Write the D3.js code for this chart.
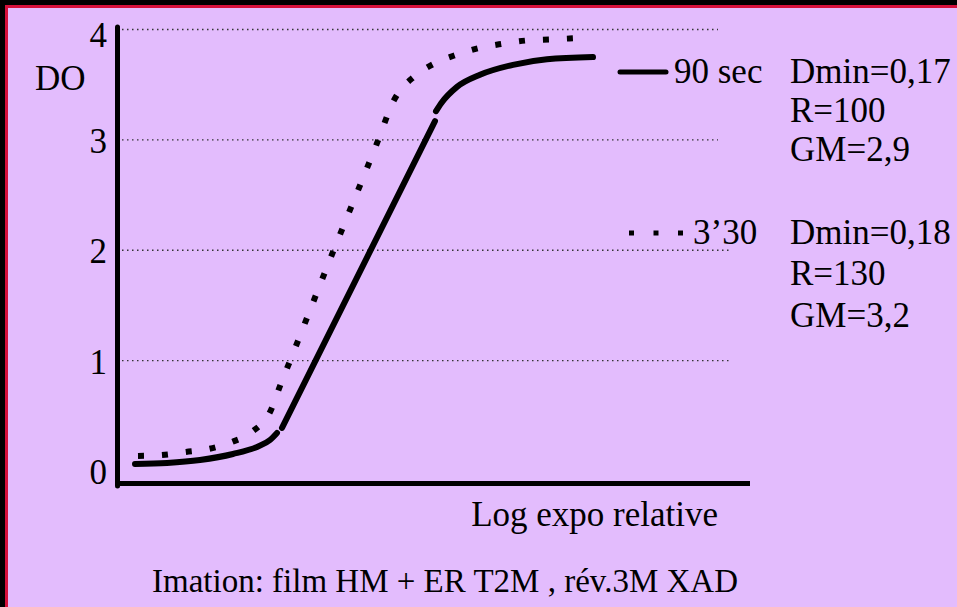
<!DOCTYPE html>
<html><head><meta charset="utf-8">
<script src="https://cdn.jsdelivr.net/npm/d3@7"></script>
<style>
html,body{margin:0;padding:0;background:#e3bcfd;}
svg{display:block;}
</style></head>
<body>
<script>
// ---- data ----
const yTicks = [0, 1, 2, 3, 4];
const yTickLabels = ["0", "1", "2", "3", "4"];
const yLabel = "DO";
const xLabel = "Log expo relative";
const caption = "Imation: film HM + ER T2M , rév.3M XAD";

// 90 sec curve: toe, straight part, shoulder
const toe90x = [0.09,0.25,0.415,0.58,0.70,0.765,0.80];
const toe90y = [0.063,0.073,0.10,0.154,0.218,0.281,0.345];
const straight90x = [0.825,1.59];
const straight90y = [0.39,3.17];
const shoulder90x = [1.595,1.62,1.70,1.815,1.98,2.15,2.38];
const shoulder90y = [3.26,3.33,3.48,3.59,3.68,3.73,3.75];

// 3'30 curve
const series330x = [0.105,0.225,0.345,0.46,0.575,0.675,0.77,0.815,0.87,1.08,1.30,1.385,1.49,1.585,1.695,1.805,1.925,2.045,2.165,2.28];
const series330y = [0.136,0.145,0.172,0.20,0.263,0.354,0.553,0.77,1.02,1.985,2.97,3.36,3.58,3.69,3.77,3.83,3.87,3.90,3.91,3.92];

const seriesNames = ["90 sec", "3\u201930"];
const seriesInfo = [["Dmin=0,17", "R=100", "GM=2,9"], ["Dmin=0,18", "R=130", "GM=3,2"]];

// ---- drawing ----
const FONT = "Liberation Serif";
const W = 957, H = 607;
const svg = d3.select("body").append("svg").attr("width", W).attr("height", H)
  .attr("font-family", FONT);
svg.append("rect").attr("width", W).attr("height", H).attr("fill", "#e3bcfd");
// frame: black outer, red inner (top and left)
svg.append("rect").attr("x",0).attr("y",0).attr("width",W).attr("height",5).attr("fill","#000");
svg.append("rect").attr("x",0).attr("y",0).attr("width",5).attr("height",H).attr("fill","#000");
svg.append("rect").attr("x",5).attr("y",5).attr("width",W-5).attr("height",3).attr("fill","#d5103c");
svg.append("rect").attr("x",5).attr("y",5).attr("width",3).attr("height",H-5).attr("fill","#d5103c");

const x = d3.scaleLinear().domain([0, 3]).range([117, 717]);
const y = d3.scaleLinear().domain([0, 4]).range([471, 29.5]);

const FS = 35;

// gridlines
svg.append("g").selectAll("line").data(yTicks.filter(d => d > 0)).join("line")
  .attr("x1", 122).attr("x2", d => d >= 3 ? 718 : 729)
  .attr("y1", d => y(d)).attr("y2", d => y(d))
  .attr("stroke", "#333").attr("stroke-width", 1.3).attr("stroke-dasharray", "1.5 3.5");

// y axis labels via d3 axis
const ax = svg.append("g").attr("transform", "translate(117,0)")
  .call(d3.axisLeft(y).tickValues(yTicks).tickFormat((d, i) => yTickLabels[i]).tickSize(0).tickPadding(10));
ax.attr("font-family", FONT).attr("font-size", FS);
ax.select(".domain").remove();
ax.selectAll("text").attr("font-size", FS).attr("font-family", FONT).attr("fill", "#000")
  .attr("dy", d => d === 4 ? "0.48em" : "0.36em");

// axis lines
svg.append("line").attr("x1", 117.5).attr("x2", 117.5).attr("y1", 27).attr("y2", 486)
  .attr("stroke", "#000").attr("stroke-width", 5).attr("stroke-linecap", "round");
svg.append("line").attr("x1", 117.5).attr("x2", 750).attr("y1", 483.5).attr("y2", 483.5)
  .attr("stroke", "#000").attr("stroke-width", 5);

// curves
const zip = (a, b) => a.map((v, i) => [v, b[i]]);
const smooth = d3.line().x(d => x(d[0])).y(d => y(d[1])).curve(d3.curveMonotoneX);
const straight = d3.line().x(d => x(d[0])).y(d => y(d[1]));

svg.append("path").attr("d", smooth(zip(series330x, series330y))).attr("fill", "none").attr("stroke", "#000")
  .attr("stroke-width", 6).attr("stroke-dasharray", "6 18");

const solidStyle = p => p.attr("fill", "none").attr("stroke", "#000")
  .attr("stroke-width", 6).attr("stroke-linecap", "round").attr("stroke-linejoin", "round");
svg.append("path").attr("d", smooth(zip(toe90x, toe90y))).call(solidStyle);
svg.append("path").attr("d", straight(zip(straight90x, straight90y))).call(solidStyle);
svg.append("path").attr("d", smooth(zip(shoulder90x, shoulder90y))).call(solidStyle);

// labels
const txt = (xx, yy, t, anchor, fs) => svg.append("text").attr("x", xx).attr("y", yy)
  .attr("font-size", fs || FS).attr("font-family", FONT).attr("fill", "#000")
  .attr("text-anchor", anchor || "start").text(t);
txt(35, 90, yLabel);
txt(718, 526, xLabel, "end");
txt(152, 592, caption, "start", 33);

// legend
svg.append("line").attr("x1", 620).attr("x2", 666).attr("y1", 72).attr("y2", 72)
  .attr("stroke", "#000").attr("stroke-width", 5).attr("stroke-linecap", "round");
txt(674, 83, seriesNames[0]);
svg.append("line").attr("x1", 629).attr("x2", 683).attr("y1", 233).attr("y2", 233)
  .attr("stroke", "#000").attr("stroke-width", 5).attr("stroke-dasharray", "5 19.5");
txt(693, 244, seriesNames[1]);

const infoY = [[83, 122, 161], [244, 285, 327]];
seriesInfo.forEach((lines, k) => {
  lines.forEach((t, j) => txt(790, infoY[k][j], t));
});
</script>
</body></html>
